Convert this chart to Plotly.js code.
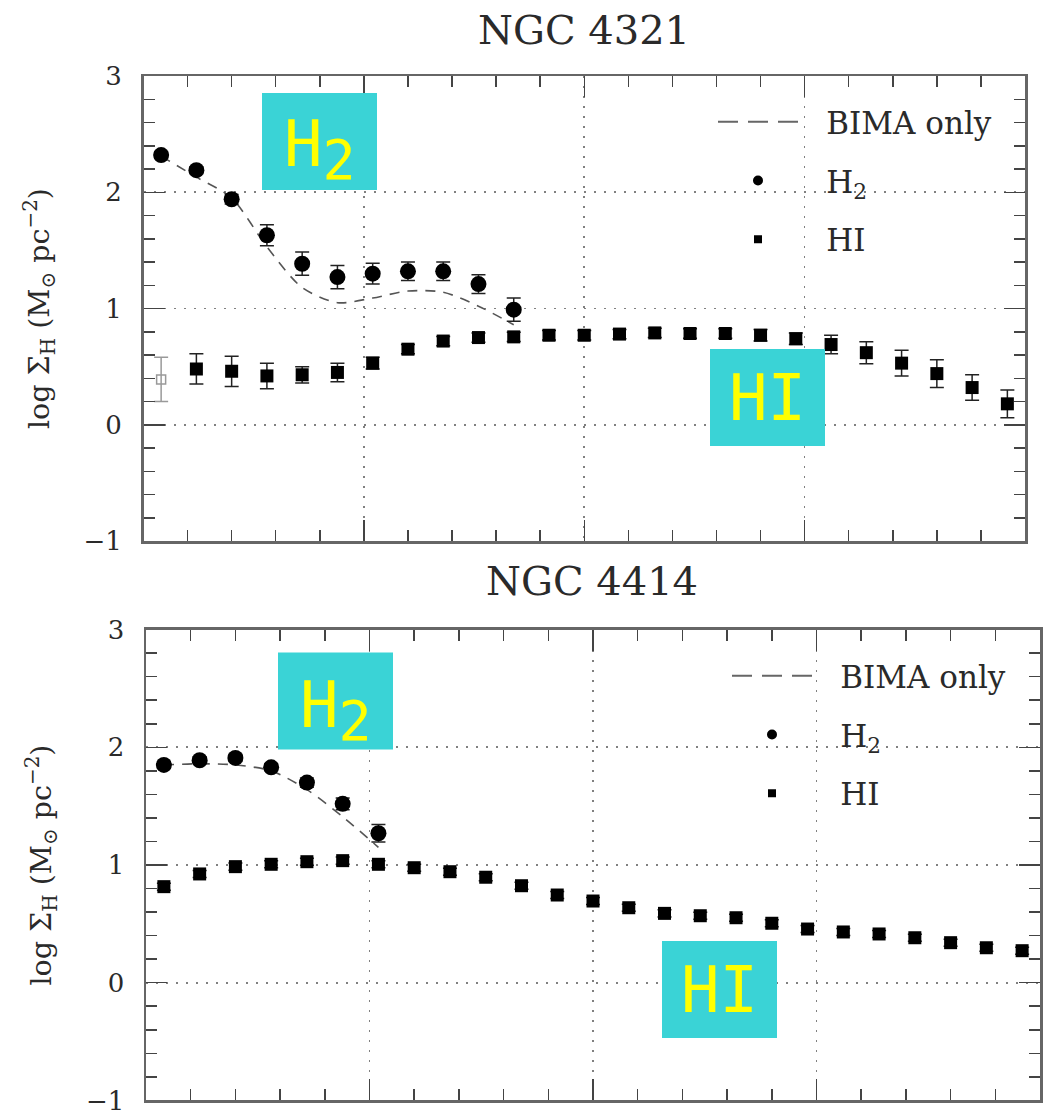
<!DOCTYPE html>
<html>
<head>
<meta charset="utf-8">
<script src="https://cdn.plot.ly/plotly-3.0.1.min.js"></script>
<style>
  html, body { margin: 0; padding: 0; background: #ffffff; }
  #chart { width: 1047px; height: 1110px; }
</style>
</head>
<body>
<div id="chart"></div>
<script>
// ---------- DATA ----------
// galactocentric radius of each annulus (x axis is unlabelled in the original)
const radii = [0.08, 0.24, 0.40, 0.56, 0.72, 0.88, 1.04, 1.20, 1.36, 1.52, 1.68, 1.84, 2.00,
               2.16, 2.32, 2.48, 2.64, 2.80, 2.96, 3.12, 3.28, 3.44, 3.60, 3.76, 3.92];

// NGC 4321
const n4321_h2     = [2.32, 2.19, 1.94, 1.63, 1.385, 1.27, 1.30, 1.32, 1.32, 1.21, 0.99];
const n4321_h2Err  = [0.03, 0.03, 0.04, 0.09, 0.10, 0.10, 0.09, 0.08, 0.08, 0.08, 0.10];
const n4321_bima   = [2.31, 2.13, 1.95, 1.53, 1.18, 1.05, 1.09, 1.15, 1.14, 1.02, 0.86];
const n4321_hi     = [0.39, 0.48, 0.46, 0.42, 0.43, 0.45, 0.53, 0.65, 0.72, 0.75, 0.756, 0.77, 0.77,
                      0.78, 0.79, 0.785, 0.785, 0.77, 0.74, 0.69, 0.62, 0.53, 0.44, 0.32, 0.18];
const n4321_hiErr  = [0.19, 0.13, 0.13, 0.11, 0.07, 0.08, 0.05, 0.04, 0.04, 0.04, 0.04, 0.04, 0.04,
                      0.04, 0.04, 0.04, 0.04, 0.05, 0.05, 0.08, 0.095, 0.11, 0.12, 0.11, 0.12];

// NGC 4414
const n4414_h2     = [1.85, 1.89, 1.91, 1.83, 1.70, 1.52, 1.27];
const n4414_h2Err  = [0.03, 0.03, 0.03, 0.03, 0.04, 0.05, 0.075];
const n4414_bima   = [1.85, 1.86, 1.85, 1.80, 1.64, 1.41, 1.15];
const n4414_hi     = [0.816, 0.924, 0.986, 1.006, 1.028, 1.037, 1.006, 0.977, 0.943, 0.896, 0.824, 0.745,
                      0.694, 0.637, 0.589, 0.569, 0.552, 0.505, 0.456, 0.431, 0.414, 0.382, 0.34, 0.297, 0.272];
const n4414_hiErr  = [0.03, 0.03, 0.03, 0.03, 0.03, 0.03, 0.03, 0.03, 0.03, 0.03, 0.03, 0.03,
                      0.03, 0.03, 0.03, 0.03, 0.03, 0.03, 0.03, 0.03, 0.03, 0.03, 0.03, 0.03, 0.03];

const panelTitles = ['NGC 4321', 'NGC 4414'];
const legendNames = ['BIMA only', 'H<sub>2</sub>', 'HI'];
const boxLabels   = ['H<sub><span style="font-size:55px">2</span></sub>', 'HI'];
const yTitle      = 'log Σ<sub>H</sub> (M<sub>⊙</sub> pc<sup>−2</sup>)';

// ---------- STYLE ----------
const W = 1047, H = 1110;
const SERIF = 'DejaVu Serif';
const INK = '#2a2a2a';
const TEAL = '#3AD3D6';
const GAP = '\u2002\u2005';   // gap between legend symbol and label

function errOpts(arr, color) {
  return { type: 'data', array: arr, visible: true, color: color || '#222', thickness: 1.5, width: 7 };
}

function panelTraces(xa, ya, legendId, h2, h2Err, bima, hi, hiErr, firstOpen) {
  const tr = [];
  const nH2 = h2.length;
  tr.push({ x: radii.slice(0, bima.length), y: bima, mode: 'lines', xaxis: xa, yaxis: ya,
            line: { color: '#555', width: 1.6, dash: '10px,8px', shape: 'spline', smoothing: 0.8 },
            showlegend: false, hoverinfo: 'skip' });
  let hiStart = 0;
  if (firstOpen) {
    hiStart = 1;
    tr.push({ x: radii.slice(0, 1), y: hi.slice(0, 1), mode: 'markers', xaxis: xa, yaxis: ya,
              marker: { symbol: 'square-open', size: 9, color: '#999', line: { width: 1.5, color: '#999' } },
              error_y: errOpts(hiErr.slice(0, 1), '#999'), showlegend: false });
  }
  tr.push({ x: radii.slice(hiStart, hi.length), y: hi.slice(hiStart), mode: 'markers', xaxis: xa, yaxis: ya,
            marker: { symbol: 'square', size: 13, color: '#000' },
            error_y: errOpts(hiErr.slice(hiStart)), showlegend: false });
  tr.push({ x: radii.slice(0, nH2), y: h2, mode: 'markers', xaxis: xa, yaxis: ya,
            marker: { symbol: 'circle', size: 16, color: '#000' },
            error_y: errOpts(h2Err), showlegend: false });
  // legend entries
  tr.push({ x: [null], y: [null], mode: 'lines', xaxis: xa, yaxis: ya, name: GAP + legendNames[0],
            legend: legendId, legendgroup: legendId + 'a',
            line: { color: '#666', width: 2, dash: '20px,10px' } });
  tr.push({ x: [null], y: [null], mode: 'markers', xaxis: xa, yaxis: ya, name: GAP + legendNames[1],
            legend: legendId, legendgroup: legendId + 'b',
            marker: { symbol: 'circle', size: 10, color: '#000' } });
  tr.push({ x: [null], y: [null], mode: 'markers', xaxis: xa, yaxis: ya, name: GAP + legendNames[2],
            legend: legendId, legendgroup: legendId + 'c',
            marker: { symbol: 'square', size: 8, color: '#000' } });
  return tr;
}

const data = [].concat(
  panelTraces('x', 'y', 'legend', n4321_h2, n4321_h2Err, n4321_bima, n4321_hi, n4321_hiErr, true),
  panelTraces('x2', 'y2', 'legend2', n4414_h2, n4414_h2Err, n4414_bima, n4414_hi, n4414_hiErr, false)
);

function xAxis(domain, anchor) {
  return {
    domain: domain, anchor: anchor, range: [0, 4], showticklabels: false,
    tick0: 0, dtick: 1, ticks: 'inside', ticklen: 21, tickwidth: 1.5, tickcolor: '#444',
    showline: true, linewidth: 2.5, linecolor: '#666', mirror: 'ticks',
    showgrid: true, gridcolor: '#808080', gridwidth: 1.6, griddash: '2px,8px', zeroline: false,
    minor: { tick0: 0, dtick: 0.2, ticks: 'inside', ticklen: 11, tickwidth: 1.5, tickcolor: '#444', showgrid: false },
    fixedrange: true
  };
}
function yAxis(domain, anchor) {
  return {
    domain: domain, anchor: anchor, range: [-1, 3],
    tick0: 0, dtick: 1, ticks: 'inside', ticklen: 21, tickwidth: 1.5, tickcolor: '#444',
    tickfont: { family: SERIF, size: 26, color: INK }, ticklabelstandoff: 14, ticklabeloverflow: 'allow',
    showline: true, linewidth: 2.5, linecolor: '#666', mirror: 'ticks',
    showgrid: true, gridcolor: '#808080', gridwidth: 1.6, griddash: '2px,8px', zeroline: false,
    minor: { tick0: 0, dtick: 0.2, ticks: 'inside', ticklen: 11, tickwidth: 1.5, tickcolor: '#444', showgrid: false },
    title: { text: yTitle, font: { family: SERIF, size: 28.5, color: INK }, standoff: 26 },
    fixedrange: true
  };
}

function boxShape(x0, y0) {
  return { type: 'rect', xref: 'paper', yref: 'paper', layer: 'above',
           x0: x0 / W, x1: (x0 + 115) / W, y0: 1 - (y0 + 97) / H, y1: 1 - y0 / H,
           fillcolor: TEAL, line: { width: 0 } };
}
function boxText(text, cx, cy) {
  return {
    xref: 'paper', yref: 'paper', x: cx / W, y: 1 - cy / H, xanchor: 'center', yanchor: 'middle',
    text: text, showarrow: false, align: 'center',
    font: { family: 'DejaVu Sans Mono', size: 64, color: '#FFFF00' }
  };
}

function legendCfg(x, y) {
  return {
    x: x / W, xanchor: 'left', y: 1 - y / H, yanchor: 'top',
    bgcolor: 'rgba(0,0,0,0)', borderwidth: 0, itemwidth: 80, tracegroupgap: 15.5,
    font: { family: SERIF, size: 31, color: INK }, itemclick: false, itemdoubleclick: false
  };
}

const layout = {
  width: W, height: H,
  margin: { l: 0, r: 0, t: 0, b: 0 },
  paper_bgcolor: '#ffffff', plot_bgcolor: '#ffffff',
  font: { family: SERIF, color: INK },
  showlegend: true,
  title: { text: panelTitles[0], x: 584 / W, xanchor: 'center', y: 1 - 30 / H, yanchor: 'middle',
           font: { family: SERIF, size: 40, color: INK } },
  xaxis:  xAxis([143.5 / W, 1025 / W], 'y'),
  yaxis:  yAxis([1 - 541 / H, 1 - 76 / H], 'x'),
  xaxis2: xAxis([146 / W, 1040 / W], 'y2'),
  yaxis2: yAxis([1 - 1100.4 / H, 1 - 629.6 / H], 'x2'),
  legend: legendCfg(713, 95),
  legend2: legendCfg(727, 649),
  shapes: [
    boxShape(262, 93),
    boxShape(710, 349),
    boxShape(278, 652.5),
    boxShape(662, 941)
  ],
  annotations: [
    { xref: 'paper', yref: 'paper', x: 592 / W, y: 1 - 581 / H, xanchor: 'center', yanchor: 'middle',
      text: panelTitles[1], showarrow: false, font: { family: SERIF, size: 40, color: INK } },
    boxText(boxLabels[0], 319.5, 150),
    boxText(boxLabels[1], 767.5, 398),
    boxText(boxLabels[0], 335.5, 710),
    boxText(boxLabels[1], 719.5, 989.5)
  ]
};

Plotly.newPlot('chart', data, layout, { staticPlot: true, displayModeBar: false });
</script>
</body>
</html>
